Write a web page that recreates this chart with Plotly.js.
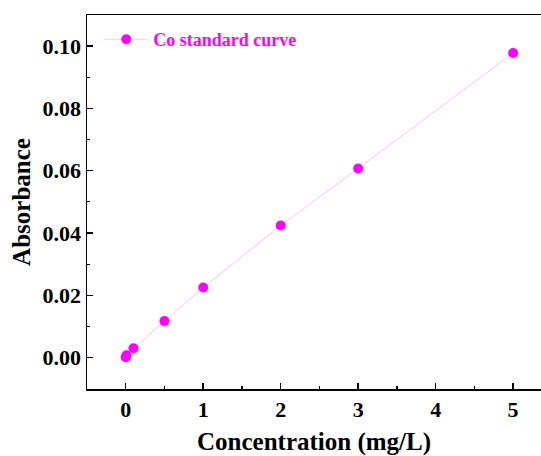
<!DOCTYPE html>
<html>
<head>
<meta charset="utf-8">
<script src="https://cdn.plot.ly/plotly-3.0.1.min.js"></script>
<style>html,body{margin:0;padding:0;background:#fff;overflow:hidden}</style>
</head>
<body>
<div id="chart" style="width:541px;height:456px"></div>
<script>
const seriesName = "Co standard curve";
const concentration = [0, 0.01, 0.1, 0.5, 1, 2, 3, 5];
const absorbance = [0.0001, 0.0007, 0.0030, 0.0117, 0.0225, 0.0424, 0.0607, 0.0978];
const xTickVals = [0, 1, 2, 3, 4, 5];
const yTickVals = [0, 0.02, 0.04, 0.06, 0.08, 0.10];
const yTickText = ["0.00", "0.02", "0.04", "0.06", "0.08", "0.10"];

const fontFam = "Liberation Serif, Times New Roman, serif";

const trace = {
  x: concentration,
  y: absorbance,
  name: seriesName,
  type: "scatter",
  mode: "lines+markers",
  line: {color: "rgba(255,120,255,0.6)", width: 0.8},
  marker: {color: "#ff00ff", size: 10}
};

const layout = {
  width: 541, height: 456,
  margin: {l: 87, r: 0, t: 15, b: 67},
  paper_bgcolor: "#fff", plot_bgcolor: "#fff",
  showlegend: true,
  legend: {
    x: 0.027, y: 0.984, xanchor: "left", yanchor: "top",
    itemwidth: 44,
    bgcolor: "rgba(0,0,0,0)",
    font: {family: fontFam, size: 18, color: "#ff00ff", weight: "bold"}
  },
  xaxis: {
    range: [-0.5, 5.36],
    tickvals: xTickVals,
    ticks: "inside", ticklen: 6, tickwidth: 1.5, tickcolor: "#000",
    minor: {dtick: 0.5, ticks: "inside", ticklen: 3, tickwidth: 1.2, tickcolor: "#000"},
    showline: true, linecolor: "#000", linewidth: 1.5, mirror: true,
    showgrid: false, zeroline: false,
    tickfont: {family: fontFam, size: 22, color: "#000", weight: "bold"},
    title: {text: "Concentration (mg/L)", font: {family: fontFam, size: 25, color: "#000", weight: "bold"}, standoff: 16}
  },
  yaxis: {
    range: [-0.0101, 0.11],
    tickvals: yTickVals, ticktext: yTickText,
    ticks: "inside", ticklen: 6, tickwidth: 1.5, tickcolor: "#000",
    minor: {dtick: 0.01, ticks: "inside", ticklen: 3, tickwidth: 1.2, tickcolor: "#000"},
    showline: true, linecolor: "#000", linewidth: 1.5, mirror: false,
    showgrid: false, zeroline: false,
    tickfont: {family: fontFam, size: 22, color: "#000", weight: "bold"},
    title: {text: "Absorbance", font: {family: fontFam, size: 25, color: "#000", weight: "bold"}, standoff: 5}
  }
};

Plotly.newPlot("chart", [trace], layout, {displayModeBar: false, staticPlot: true});
</script>
</body>
</html>
